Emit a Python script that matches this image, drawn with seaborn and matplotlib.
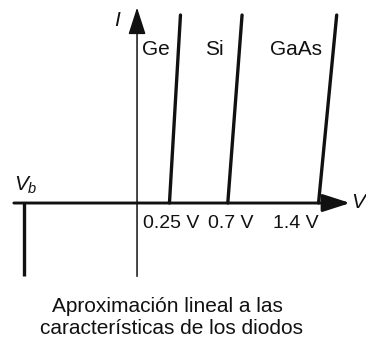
import matplotlib
matplotlib.use("Agg")
import matplotlib.pyplot as plt
import pandas as pd
import seaborn as sns

# Knee voltages (V) of the piecewise-linear diode models
diodos = ["Ge", "Si", "GaAs"]
v_umbral = [0.25, 0.7, 1.4]
etiquetas_umbral = ["0.25 V", "0.7 V", "1.4 V"]
# Voltage reached at the top of each conducting branch (finite slope)
v_superior = [0.335, 0.81, 1.54]
i_superior = [10.0, 10.0, 10.0]
# Reverse breakdown voltage and current extent of the breakdown branch
v_ruptura = -0.87
i_ruptura = -3.9

sns.set_theme(style="white")
plt.rcParams["font.family"] = ["Liberation Sans", "DejaVu Sans"]
plt.rcParams["mathtext.fontset"] = "custom"
plt.rcParams["mathtext.it"] = "Liberation Sans:italic"
plt.rcParams["mathtext.rm"] = "Liberation Sans"

filas = []
for d, v0, v1, i1 in zip(diodos, v_umbral, v_superior, i_superior):
    filas.append({"diodo": d, "V": v0, "I": 0.0, "orden": 0})
    filas.append({"diodo": d, "V": v1, "I": i1, "orden": 1})
df = pd.DataFrame(filas)

W, H = 366, 341
fig = plt.figure(figsize=(W / 100, H / 100), dpi=100)
ax = fig.add_axes([0, 0, 1, 1])
ax.set_xlim(-1.057, 1.766)
ax.set_ylim(-7.34, 10.8)
ax.axis("off")

tinta = "#111111"
sns.lineplot(data=df, x="V", y="I", units="diodo", estimator=None, sort=False,
             color=tinta, linewidth=2.4, ax=ax, legend=False)

# Breakdown branch and axes
x_izq = -0.95
ax.plot([v_ruptura, v_ruptura], [0, i_ruptura], color=tinta, lw=2.4,
        solid_capstyle="butt")
ax.annotate("", xy=(1.644, 0), xytext=(x_izq, 0),
            arrowprops=dict(arrowstyle="-|>,head_length=1.4,head_width=0.45",
                            color=tinta, lw=2.1, shrinkA=0, shrinkB=0))
ax.annotate("", xy=(0, 10.4), xytext=(0, i_ruptura),
            arrowprops=dict(arrowstyle="-|>,head_length=1.4,head_width=0.45",
                            color=tinta, lw=1.1, shrinkA=0, shrinkB=0))

fs = 15
ax.text(-0.155, 9.7, "I", fontsize=fs, style="italic", ha="center", va="center",
        color=tinta)
ax.text(1.705, 0.05, "V", fontsize=fs, style="italic", ha="center", va="center",
        color=tinta)
ax.text(-0.95, 0.95, r"$V_b$", fontsize=fs, ha="left", va="center", color=tinta)

pos_nombres = [0.147, 0.60, 1.226]
for d, xp in zip(diodos, pos_nombres):
    ax.text(xp, 8.15, d, fontsize=fs, ha="center", va="center", color=tinta)

pos_etiquetas = [0.262, 0.725, 1.226]
for t, xp in zip(etiquetas_umbral, pos_etiquetas):
    ax.text(xp, -1.08, t, fontsize=14, ha="center", va="center", color=tinta)

fig.text(167 / W, 1 - 307 / H, "Aproximación lineal a las", fontsize=fs,
         ha="center", va="center", color=tinta)
fig.text(172 / W, 1 - 328 / H, "características de los diodos", fontsize=fs,
         ha="center", va="center", color=tinta)

fig.savefig("out.png", dpi=100, facecolor="white")
